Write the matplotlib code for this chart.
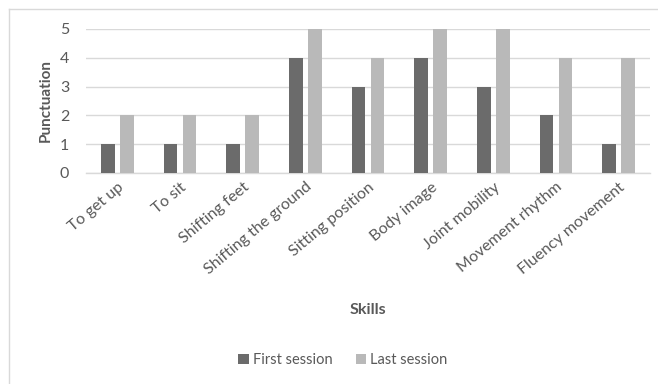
import numpy as np
import matplotlib.pyplot as plt
from matplotlib.lines import Line2D

# chart data
skills = ["To get up", "To sit", "Shifting feet", "Shifting the ground",
          "Sitting position", "Body image", "Joint mobility",
          "Movement rhythm", "Fluency movement"]
first_session = [1, 1, 1, 4, 3, 4, 3, 2, 1]
last_session = [2, 2, 2, 5, 4, 5, 5, 4, 4]
y_ticks = [0, 1, 2, 3, 4, 5]

text_color = "#595959"
grid_color = "#d9d9d9"
dark = "#6b6b6b"
light = "#b9b9b9"

plt.rcParams['font.family'] = ['Lato', 'DejaVu Sans']

fig = plt.figure(figsize=(6.58, 3.84), dpi=100)
ax = fig.add_axes([86 / 658, 1 - 173 / 384, (650 - 86) / 658, (173 - 29) / 384])

x = np.arange(len(skills))
ax.bar(x - 0.15, first_session, width=0.22, color=dark, label="First session", zorder=3)
ax.bar(x + 0.15, last_session, width=0.22, color=light, label="Last session", zorder=3)

ax.set_xlim(-0.5, len(skills) - 0.5)
ax.set_ylim(0, 5)
ax.set_yticks(y_ticks)
ax.yaxis.grid(True, color=grid_color, linewidth=1, zorder=0)
ax.set_axisbelow(True)

for side in ["top", "right", "left"]:
    ax.spines[side].set_visible(False)
ax.spines["bottom"].set_color(grid_color)
ax.spines["bottom"].set_linewidth(1)

ax.tick_params(axis="both", length=0, colors=text_color, labelsize=11.5)
ax.tick_params(axis="x", pad=5)
ax.tick_params(axis="y", pad=12)
ax.set_xticks(x)
ax.set_xticklabels(skills, rotation=40, ha="right", rotation_mode="anchor")

ax.set_ylabel("Punctuation", fontsize=11, fontweight="bold", color=text_color, labelpad=5)

fig.text(368 / 658, 1 - 310 / 384, "Skills", fontsize=11.5, fontweight="bold",
         color=text_color, ha="center", va="center")

leg = ax.legend(loc="center", bbox_to_anchor=(343 / 658, 1 - 360 / 384),
                bbox_transform=fig.transFigure, ncol=2, frameon=False,
                fontsize=10.5, handlelength=0.7, handleheight=0.7,
                handletextpad=0.3, columnspacing=1.6)
for t in leg.get_texts():
    t.set_color(text_color)

# chart area border (only top and left visible in the crop)
fig.add_artist(Line2D([9 / 658, 1], [1 - 9 / 384, 1 - 9 / 384], color=grid_color, linewidth=1))
fig.add_artist(Line2D([9 / 658, 9 / 658], [0, 1 - 9 / 384], color=grid_color, linewidth=1))

fig.savefig("out.png", dpi=100)
